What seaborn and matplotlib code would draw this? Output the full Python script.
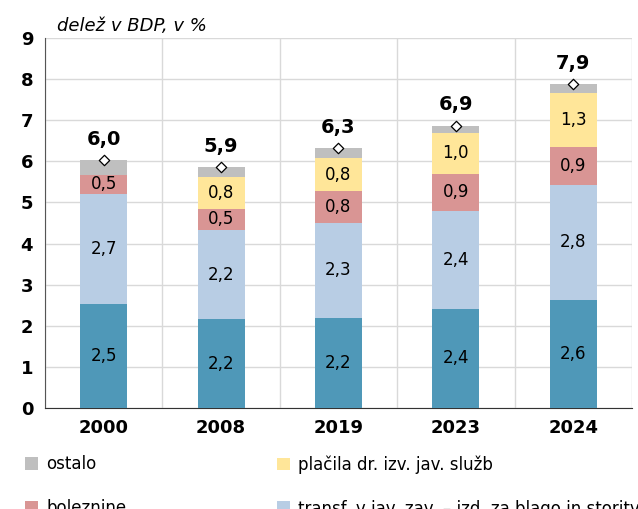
import numpy as np
import pandas as pd
import seaborn as sns
import matplotlib.pyplot as plt
from matplotlib.patches import Patch

# data (delez v BDP, v %)
years = ['2000', '2008', '2019', '2023', '2024']
sredstva = [2.53, 2.16, 2.20, 2.42, 2.63]      # bottom (teal)
transf = [2.67, 2.17, 2.30, 2.38, 2.80]        # light blue
boleznine = [0.48, 0.52, 0.78, 0.90, 0.92]
placila = [0.0, 0.77, 0.80, 1.00, 1.32]
ostalo = [0.35, 0.25, 0.25, 0.17, 0.20]

series = ['sredstva za zaposlene',
          'transf. v jav. zav. – izd. za blago in storitve',
          'boleznine', 'plačila dr. izv. jav. služb', 'ostalo']
colors = ['#4F98B8', '#B8CDE4', '#D99594', '#FFE699', '#BFBFBF']

sns.set_style('white')
plt.rcParams['font.family'] = ['DejaVu Sans']
plt.rcParams['text.color'] = 'black'
plt.rcParams['xtick.color'] = 'black'
plt.rcParams['ytick.color'] = 'black'

df = pd.DataFrame({'year': years, series[0]: sredstva, series[1]: transf,
                   series[2]: boleznine, series[3]: placila, series[4]: ostalo})
vals = df[series].values
cum = np.cumsum(vals, axis=1)
totals = cum[:, -1]

fig = plt.figure(figsize=(6.38, 5.09), dpi=100)
ax = fig.add_axes([0.0705, 0.1984, 0.92, 0.7269])

# stacked bars: draw cumulative sums from top layer down
for i in range(len(series) - 1, -1, -1):
    sns.barplot(x=df['year'], y=cum[:, i], color=colors[i], width=0.4,
                saturation=1, ax=ax, zorder=3, edgecolor='none')

# segment labels
for j in range(len(years)):
    for i in range(len(series) - 1):
        v = vals[j, i]
        if v < 0.05:
            continue
        y = cum[j, i] - v / 2
        ax.text(j, y, f'{v:.1f}'.replace('.', ','), ha='center', va='center',
                fontsize=12, zorder=5)
    ax.text(j, totals[j] + 0.27, f'{totals[j]:.1f}'.replace('.', ','),
            ha='center', va='bottom', fontsize=14, fontweight='bold', zorder=5)

ax.scatter(range(len(years)), totals, marker='D', s=28, facecolor='white',
           edgecolor='black', linewidth=0.9, zorder=6)

ax.set_ylim(0, 9)
ax.set_xlim(-0.5, len(years) - 0.5)
ax.set_yticks(range(0, 10))
ax.set_xticks(np.arange(-0.5, len(years)), minor=True)
ax.tick_params(axis='x', which='major', length=0, pad=8, labelsize=13)
ax.tick_params(axis='x', which='minor', length=5, color='#333333', direction='out')
ax.tick_params(axis='y', length=5, color='#333333', direction='out', labelsize=13)
for lab in ax.get_xticklabels() + ax.get_yticklabels():
    lab.set_fontweight('bold')
ax.grid(axis='y', color='#D9D9D9', linewidth=1, zorder=0)
ax.grid(axis='x', which='minor', color='#D9D9D9', linewidth=1, zorder=0)
ax.set_axisbelow(True)
ax.set_xlabel('')
ax.set_ylabel('')
for s in ['top', 'right']:
    ax.spines[s].set_visible(False)
ax.spines['left'].set_color('#555555')
ax.spines['bottom'].set_color('#333333')

fig.text(0.09, 0.94, 'delež v BDP, v %', style='italic', fontsize=13)

# legend, two columns (bottom row is cut by the figure edge as in the original)
h = [Patch(facecolor=c, edgecolor='none') for c in colors]
kw = dict(frameon=False, fontsize=12, handlelength=0.8, handleheight=0.8,
          handletextpad=0.5, labelspacing=1.55, loc='upper left')
fig.legend([h[4], h[2], h[0]], [series[4], series[2], series[0]],
           bbox_to_anchor=(0.015, 0.135), **kw)
fig.legend([h[3], h[1]], [series[3], series[1]],
           bbox_to_anchor=(0.41, 0.135), **kw)

fig.savefig('out.png', dpi=100)
